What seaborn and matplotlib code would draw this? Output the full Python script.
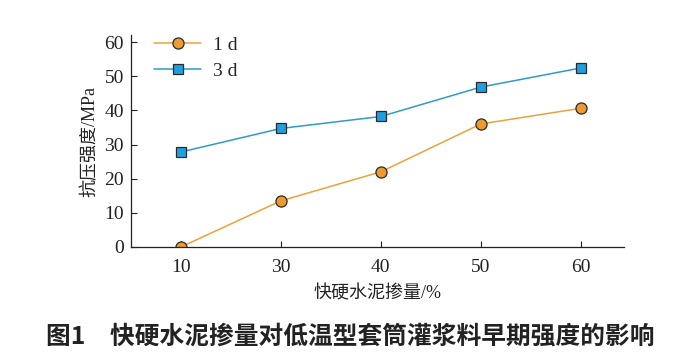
import matplotlib
matplotlib.use("Agg")
import matplotlib.pyplot as plt
import seaborn as sns
import pandas as pd

categories = ["10", "30", "40", "50", "60"]
strength_1d = [0.0, 13.5, 22.0, 36.0, 40.6]
strength_3d = [27.8, 34.7, 38.2, 46.8, 52.4]
series_names = ["1 d", "3 d"]
y_ticks = [0, 10, 20, 30, 40, 50, 60]

sns.set_style("ticks")
plt.rcParams['font.family'] = ['Liberation Serif', 'Noto Sans CJK SC']
plt.rcParams['axes.unicode_minus'] = False

df = pd.DataFrame({
    "x": categories * 2,
    "y": strength_1d + strength_3d,
    "s": [series_names[0]] * len(categories) + [series_names[1]] * len(categories),
})

fig = plt.figure(figsize=(7, 3.59), dpi=100)
ax = fig.add_axes([0.187, 0.312, 0.704, 0.590])

line_colors = {"1 d": "#E9A33C", "3 d": "#2E9CC4"}
face_colors = {"1 d": "#EE9A2E", "3 d": "#1E9FE0"}
markers = {"1 d": "o", "3 d": "s"}

for name in series_names:
    sub = df[df["s"] == name]
    sns.lineplot(data=sub, x="x", y="y", ax=ax, color=line_colors[name],
                 marker=markers[name], markersize=8 if name == "1 d" else 7.5,
                 markerfacecolor=face_colors[name], markeredgecolor="#2a2a2a",
                 markeredgewidth=0.9, linewidth=1.1, label=name, sort=False)

ax.set_xlim(-0.5, 4.43)
ax.set_ylim(0, 62)
ax.set_yticks(y_ticks)
ax.tick_params(direction="in", length=4, width=0.8, labelsize=14, colors="#222222")
ax.tick_params(axis="x", pad=9)
ax.tick_params(axis="y", pad=5)
for s in ["top", "right"]:
    ax.spines[s].set_visible(False)
for s in ["left", "bottom"]:
    ax.spines[s].set_linewidth(0.9)
    ax.spines[s].set_color("#222222")

ax.set_xlabel("快硬水泥掺量/%", fontsize=13, labelpad=6, color="#222222")
ax.set_ylabel("抗压强度/MPa", fontsize=13, labelpad=4, color="#222222")

leg = ax.legend(loc="upper left", bbox_to_anchor=(0.02, 1.06), frameon=False,
                fontsize=14, handlelength=2.4, handletextpad=0.6,
                labelspacing=0.45, borderaxespad=0.3)

fig.text(0.5, 0.062, "图1　快硬水泥掺量对低温型套筒灌浆料早期强度的影响",
         ha="center", va="center", fontsize=17.8, fontweight="bold",
         family=["Noto Sans CJK SC", "DejaVu Sans"], color="#222222")

fig.savefig("out.png", dpi=100, facecolor="white")
